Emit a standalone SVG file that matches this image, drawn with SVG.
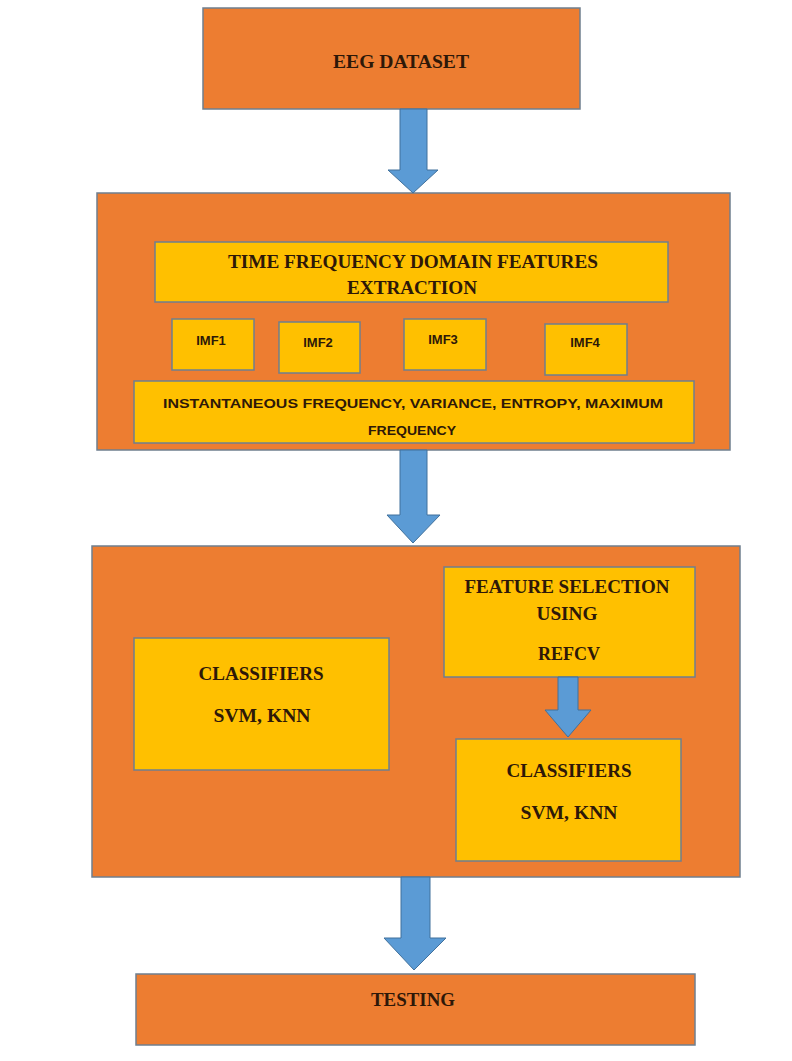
<svg xmlns="http://www.w3.org/2000/svg" width="792" height="1061" viewBox="0 0 792 1061">
<style>
.outer{fill:#ED7D31;stroke:#6F7F8F;stroke-width:1.5}
.inner{fill:#FFC000;stroke:#6F7F8F;stroke-width:1.5}
.arrow{fill:#5B9BD5;stroke:#41719C;stroke-width:1}
.ser{font-family:"Liberation Serif","Times New Roman",serif;font-size:19px;font-weight:bold;fill:#2E1808;text-anchor:middle}
.sans{font-family:"Liberation Sans",Arial,sans-serif;font-size:13px;font-weight:bold;fill:#2E1808;text-anchor:middle}
</style>
<rect width="792" height="1061" fill="#FFFFFF"/>
<g id="eeg">
<rect class="outer" x="203" y="8" width="377" height="101"/>
<text class="ser" x="401" y="68" textLength="136" lengthAdjust="spacingAndGlyphs">EEG DATASET</text>
</g>
<g id="stage2">
<rect class="outer" x="97" y="193" width="633" height="257"/>
</g>
<g id="tfd">
<rect class="inner" x="155" y="242" width="513" height="60"/>
<text class="ser" x="413" y="268" textLength="370" lengthAdjust="spacingAndGlyphs">TIME FREQUENCY DOMAIN FEATURES</text>
<text class="ser" x="412" y="294" textLength="130" lengthAdjust="spacingAndGlyphs">EXTRACTION</text>
</g>
<g id="imf1">
<rect class="inner" x="172" y="319" width="82" height="51"/>
<text class="sans" x="211" y="345">IMF1</text>
</g>
<g id="imf2">
<rect class="inner" x="279" y="322" width="81" height="51"/>
<text class="sans" x="318" y="347">IMF2</text>
</g>
<g id="imf3">
<rect class="inner" x="404" y="319" width="82" height="51"/>
<text class="sans" x="443" y="344">IMF3</text>
</g>
<g id="imf4">
<rect class="inner" x="545" y="324" width="82" height="51"/>
<text class="sans" x="585" y="347">IMF4</text>
</g>
<g id="features">
<rect class="inner" x="134" y="381" width="560" height="62"/>
<text class="sans" x="413" y="408" textLength="500" lengthAdjust="spacingAndGlyphs">INSTANTANEOUS FREQUENCY, VARIANCE, ENTROPY,  MAXIMUM</text>
<text class="sans" x="412" y="435" textLength="88" lengthAdjust="spacingAndGlyphs">FREQUENCY</text>
</g>
<g id="stage3">
<rect class="outer" x="92" y="546" width="648" height="331"/>
</g>
<g id="fsel">
<rect class="inner" x="444" y="567" width="251" height="110"/>
<text class="ser" x="567" y="593" textLength="205" lengthAdjust="spacingAndGlyphs">FEATURE SELECTION</text>
<text class="ser" x="567" y="620" textLength="61" lengthAdjust="spacingAndGlyphs">USING</text>
<text class="ser" x="569" y="660" textLength="62" lengthAdjust="spacingAndGlyphs">REFCV</text>
</g>
<g id="clf1">
<rect class="inner" x="134" y="638" width="255" height="132"/>
<text class="ser" x="261" y="680" textLength="125" lengthAdjust="spacingAndGlyphs">CLASSIFIERS</text>
<text class="ser" x="262" y="722" textLength="97" lengthAdjust="spacingAndGlyphs">SVM, KNN</text>
</g>
<g id="clf2">
<rect class="inner" x="456" y="739" width="225" height="122"/>
<text class="ser" x="569" y="777" textLength="125" lengthAdjust="spacingAndGlyphs">CLASSIFIERS</text>
<text class="ser" x="569" y="819" textLength="97" lengthAdjust="spacingAndGlyphs">SVM, KNN</text>
</g>
<g id="testing">
<rect class="outer" x="136" y="974" width="559" height="71"/>
<text class="ser" x="413" y="1006" textLength="84" lengthAdjust="spacingAndGlyphs">TESTING</text>
</g>
<g id="connectors">
<polygon class="arrow" points="400,109 427,109 427,170 438,170 413,193 388,170 400,170"/>
<polygon class="arrow" points="400,450 427,450 427,515 440,515 413,543 387,515 400,515"/>
<polygon class="arrow" points="558,677 578,677 578,710 591,710 568,737 545,710 558,710"/>
<polygon class="arrow" points="401,877 430,877 430,938 446,938 414,970 384,938 401,938"/>
</g>
</svg>
